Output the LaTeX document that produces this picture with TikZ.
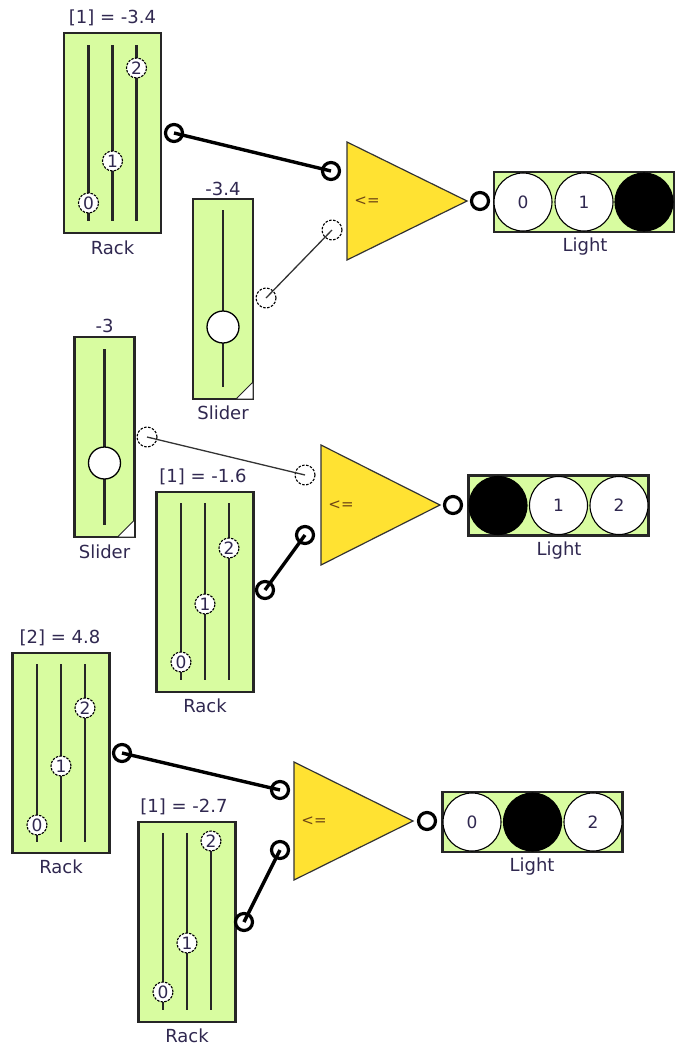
\documentclass[tikz,border=0pt]{standalone}
\usepackage{fontspec}
\setmainfont{DejaVu Sans}
\definecolor{boxgreen}{RGB}{216,252,160}
\definecolor{gateyellow}{RGB}{255,226,50}
\definecolor{txt}{RGB}{48,40,80}
\tikzset{
  lbl/.style={text=txt, font=\fontsize{18}{20}\selectfont, inner sep=0},
  rackbox/.style={draw=black!85, line width=2.2, fill=boxgreen, minimum width=97, minimum height=200, inner sep=0},
  sliderbox/.style={rackbox, minimum width=60},
  rail/.style={line width=2.6, black!85},
  knob/.style={circle, fill=white, draw=black, line width=1.1, dash pattern=on 2.5pt off 1.2pt, minimum size=20, inner sep=0, text=txt, font=\fontsize{17}{17}\selectfont},
  sknob/.style={circle, fill=white, draw=black, line width=1.3, minimum size=32, inner sep=0},
  corner/.style={fill=white, draw=black!85, line width=1},
  port/.style={circle, fill=white, draw=black, line width=3.2, minimum size=17, inner sep=0},
  dport/.style={circle, fill=white, draw=black, line width=1.1, dash pattern=on 2.5pt off 1.5pt, minimum size=20, inner sep=0},
  wire/.style={line width=3.4, black},
  twire/.style={line width=1.3, black!80},
  gate/.style={draw=black!80, line width=1.2, fill=gateyellow},
  optext/.style={text={rgb,255:red,110;green,70;blue,20}, font=\fontsize{15}{15}\selectfont, inner sep=0},
  lampbox/.style={draw=black!85, line width=2.2, fill=boxgreen, minimum width=180, minimum height=60, inner sep=0},
  lamp/.style={circle, draw=black, line width=1.1, fill=white, minimum size=58, inner sep=0, text=txt, font=\fontsize{17}{17}\selectfont},
  lampon/.style={lamp, fill=black},
}
\begin{document}
\begin{tikzpicture}[x=1pt,y=-1pt]
\useasboundingbox (0,0) rectangle (676,1045);

% ---------- Rack 1 ----------
\node[rackbox] (r1) at (112.5,133) {};
\node[lbl] (r1v) at (112.5,18) {[1] = -3.4};
\node[lbl] (r1n) at (112.5,248) {Rack};
\draw[rail] (88.5,45) -- (88.5,221) (112.5,45) -- (112.5,221) (136.5,45) -- (136.5,221);
\node[knob] (r1k0) at (88.5,203) {0};
\node[knob] (r1k1) at (112.5,161) {1};
\node[knob] (r1k2) at (136.5,68) {2};
\node[port] (p1) at (174,133) {};

% ---------- Slider 1 ----------
\node[sliderbox] (s1) at (223,299) {};
\node[lbl] (s1v) at (223,189) {-3.4};
\node[lbl] (s1n) at (223,413) {Slider};
\draw[rail] (223,210) -- (223,387);
\node[sknob] (s1k) at (223,327) {};
\draw[corner] (253,382) -- (253,399) -- (236,399) -- cycle;
\node[dport] (ds1) at (266,298) {};

% ---------- Gate 1 ----------
\draw[gate] (347,142) -- (467,201) -- (347,260) -- cycle;
\node[optext] (g1) at (367,201) {<=};
\node[port] (t1a) at (331,171) {};
\node[dport] (t1b) at (332,230) {};
\node[port] (t1o) at (480,201) {};

% ---------- Light 1 ----------
\node[lampbox] (l1) at (584,202) {};
\node[lamp] (l1c0) at (523,202) {0};
\node[lamp] (l1c1) at (584,202) {1};
\node[lampon] (l1c2) at (644,202) {};
\node[lbl] (l1n) at (585,247) {Light};

% ---------- Slider 2 ----------
\node[sliderbox] (s2) at (104.5,437) {};
\node[lbl] (s2v) at (104.5,326) {-3};
\node[lbl] (s2n) at (104.5,552) {Slider};
\draw[rail] (104.5,349) -- (104.5,525);
\node[sknob] (s2k) at (104.5,463) {};
\draw[corner] (134.5,520) -- (134.5,537) -- (117.5,537) -- cycle;
\node[dport] (ds2) at (147,437) {};

% ---------- Rack 2 ----------
\node[rackbox] (r2) at (205,592) {};
\node[lbl] (r2v) at (203,477) {[1] = -1.6};
\node[lbl] (r2n) at (205,706) {Rack};
\draw[rail] (181,503) -- (181,680) (205,503) -- (205,680) (229,503) -- (229,680);
\node[knob] (r2k0) at (181,662) {0};
\node[knob] (r2k1) at (205,604) {1};
\node[knob] (r2k2) at (229,548) {2};
\node[port] (p2) at (265,590) {};

% ---------- Gate 2 ----------
\draw[gate] (321,445) -- (440,505) -- (321,565) -- cycle;
\node[optext] (g2) at (341,505) {<=};
\node[dport] (t2a) at (305,475) {};
\node[port] (t2b) at (305,535) {};
\node[port] (t2o) at (453,505) {};

% ---------- Light 2 ----------
\node[lampbox] (l2) at (558.5,505.5) {};
\node[lampon] (l2c0) at (498,505.5) {};
\node[lamp] (l2c1) at (558.5,505.5) {1};
\node[lamp] (l2c2) at (619,505.5) {2};
\node[lbl] (l2n) at (559,551) {Light};

% ---------- Rack 3 ----------
\node[rackbox] (r3) at (61,753) {};
\node[lbl] (r3v) at (60,638) {[2] = 4.8};
\node[lbl] (r3n) at (61,867) {Rack};
\draw[rail] (37,664) -- (37,842) (61,664) -- (61,842) (85,664) -- (85,842);
\node[knob] (r3k0) at (37,825) {0};
\node[knob] (r3k1) at (61,766) {1};
\node[knob] (r3k2) at (85,708) {2};
\node[port] (p3) at (122,753) {};

% ---------- Rack 4 ----------
\node[rackbox] (r4) at (187,922) {};
\node[lbl] (r4v) at (184,807) {[1] = -2.7};
\node[lbl] (r4n) at (187,1036) {Rack};
\draw[rail] (163,833) -- (163,1010) (187,833) -- (187,1010) (211,833) -- (211,1010);
\node[knob] (r4k0) at (163,992) {0};
\node[knob] (r4k1) at (187,943) {1};
\node[knob] (r4k2) at (211,841) {2};
\node[port] (p4) at (244,922) {};

% ---------- Gate 3 ----------
\draw[gate] (294,762) -- (413,821) -- (294,880) -- cycle;
\node[optext] (g3) at (314,821) {<=};
\node[port] (t3a) at (280,790) {};
\node[port] (t3b) at (280,850) {};
\node[port] (t3o) at (427,821) {};

% ---------- Light 3 ----------
\node[lampbox] (l3) at (532.5,822) {};
\node[lamp] (l3c0) at (472,822) {0};
\node[lampon] (l3c1) at (532.5,822) {};
\node[lamp] (l3c2) at (593,822) {2};
\node[lbl] (l3n) at (532,867) {Light};

% ---------- Connectors ----------
\draw[wire] (p1.center) -- (t1a.center);
\draw[twire] (ds1.center) -- (t1b.center);
\draw[twire] (ds2.center) -- (t2a.center);
\draw[wire] (p2.center) -- (t2b.center);
\draw[wire] (p3.center) -- (t3a.center);
\draw[wire] (p4.center) -- (t3b.center);
\end{tikzpicture}
\end{document}
